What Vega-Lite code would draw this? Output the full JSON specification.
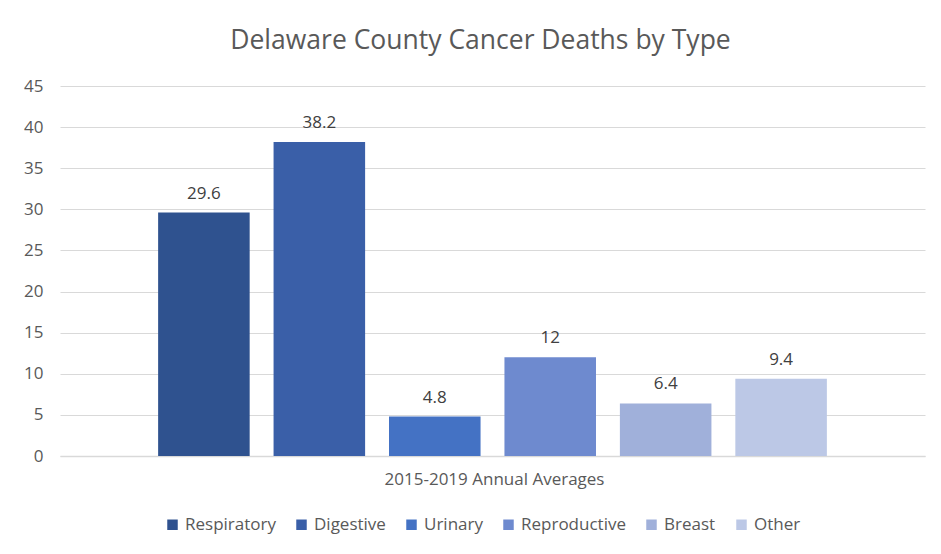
{
  "$schema": "https://vega.github.io/schema/vega-lite/v6.json",
  "autosize": {"type": "none"},
  "width": 865,
  "height": 370,
  "padding": {"left": 60, "top": 86, "right": 16, "bottom": 98},
  "background": "white",
  "config": {
    "font": "Open Sans",
    "view": {"stroke": null}
  },
  "title": {
    "text": "Delaware County Cancer Deaths by Type",
    "fontSize": 26.5,
    "fontWeight": "normal",
    "color": "#595959",
    "anchor": "middle",
    "dx": -12,
    "offset": 23
  },
  "data": {
    "values": [
      {"period": "2015-2019 Annual Averages", "type": "Respiratory", "value": 29.6},
      {"period": "2015-2019 Annual Averages", "type": "Digestive", "value": 38.2},
      {"period": "2015-2019 Annual Averages", "type": "Urinary", "value": 4.8},
      {"period": "2015-2019 Annual Averages", "type": "Reproductive", "value": 12},
      {"period": "2015-2019 Annual Averages", "type": "Breast", "value": 6.4},
      {"period": "2015-2019 Annual Averages", "type": "Other", "value": 9.4}
    ]
  },
  "encoding": {
    "x": {
      "field": "period",
      "type": "nominal",
      "scale": {"paddingInner": 0, "paddingOuter": 0},
      "axis": {
        "title": null,
        "labelAngle": 0,
        "labelFontSize": 17,
        "labelColor": "#595959",
        "labelPadding": 15,
        "labelLimit": 600,
        "labelOffset": 2,
        "ticks": false,
        "domainColor": "#d9d9d9",
        "domainWidth": 1.5
      }
    },
    "xOffset": {
      "field": "type",
      "type": "nominal",
      "sort": ["Respiratory", "Digestive", "Urinary", "Reproductive", "Breast", "Other"],
      "scale": {"paddingInner": 0.207, "paddingOuter": 0.85}
    },
    "y": {
      "field": "value",
      "type": "quantitative",
      "scale": {"domain": [0, 45]},
      "axis": {
        "title": null,
        "values": [0, 5, 10, 15, 20, 25, 30, 35, 40, 45],
        "labelFontSize": 17,
        "labelColor": "#595959",
        "labelPadding": 17,
        "ticks": false,
        "domain": false,
        "gridColor": "#d9d9d9",
        "gridWidth": 1.2
      }
    }
  },
  "layer": [
    {
      "mark": {"type": "bar"},
      "encoding": {
        "color": {
          "field": "type",
          "type": "nominal",
          "sort": ["Respiratory", "Digestive", "Urinary", "Reproductive", "Breast", "Other"],
          "scale": {
            "domain": ["Respiratory", "Digestive", "Urinary", "Reproductive", "Breast", "Other"],
            "range": ["#2f528f", "#3a5fa8", "#4472c4", "#6e8acf", "#a0b0da", "#bcc8e6"]
          },
          "legend": {
            "title": null,
            "orient": "none",
            "legendX": 104,
            "legendY": 430,
            "direction": "horizontal",
            "symbolType": "square",
            "symbolSize": 110,
            "symbolStrokeWidth": 0,
            "labelFontSize": 17,
            "labelColor": "#595959",
            "labelOffset": 4,
            "columnPadding": 17
          }
        }
      }
    },
    {
      "mark": {"type": "text", "baseline": "alphabetic", "dy": -14, "fontSize": 17, "color": "#404040"},
      "encoding": {
        "text": {"field": "value", "type": "quantitative"}
      }
    }
  ]
}
